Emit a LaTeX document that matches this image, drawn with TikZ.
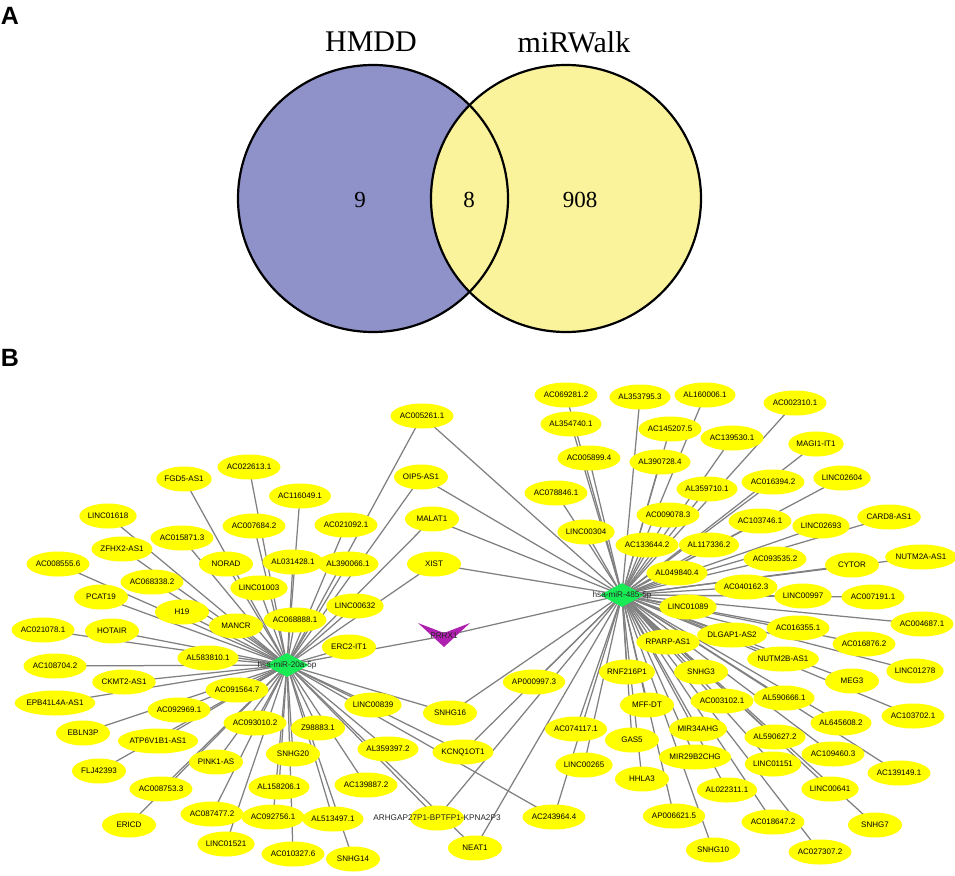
\documentclass[tikz,border=0pt]{standalone}
\usepackage{fontspec}
\setmainfont{Liberation Sans}
\newfontfamily\vennfont{Liberation Serif}
\usetikzlibrary{shapes.geometric}
\definecolor{hmddcolor}{RGB}{143,146,200}
\definecolor{walkcolor}{RGB}{250,243,155}
\definecolor{lnccolor}{RGB}{255,255,0}
\definecolor{mircolor}{RGB}{25,235,85}
\definecolor{genecolor}{RGB}{176,32,176}
\definecolor{edgecolor}{RGB}{128,128,128}
\pgfdeclarelayer{background}
\pgfsetlayers{background,main}

\begin{document}
\begin{tikzpicture}[%
    x=1pt, y=-1pt,              % pixel grid, top-down
    ]
\tikzset{
  lnc/.style={ellipse, fill=lnccolor, minimum width=54pt, minimum height=25pt, inner sep=0pt, font=\fontsize{8}{9}\selectfont},
  mir/.style={diamond, fill=mircolor, minimum width=44pt, minimum height=24pt, inner sep=0pt},
  hub/.style={font=\fontsize{8.2}{9}\selectfont, text=black!85, inner sep=0pt},
  link/.style={draw=edgecolor, line width=1.25pt},
  venn/.style={draw=black, line width=2.2pt},
  vlabel/.style={font=\vennfont\fontsize{30}{30}\selectfont},
  vcount/.style={font=\vennfont\fontsize{23}{23}\selectfont},
  panel/.style={font=\bfseries\fontsize{25}{25}\selectfont},
}
\useasboundingbox (0,0) rectangle (955,875);

% panel A: venn
\node [panel] (pA) at (10,16) {A};
\node [panel] (pB) at (10,358) {B};
\fill [hmddcolor] (373,198.5) ellipse [x radius=135, y radius=133.5];
\fill [walkcolor] (566,198.5) ellipse [x radius=135, y radius=133.5];
\draw [venn] (373,198.5) ellipse [x radius=135, y radius=133.5];
\draw [venn] (566,198.5) ellipse [x radius=135, y radius=133.5];
\node [vlabel] (hmdd) at (371,42) {HMDD};
\node [vlabel] (mirwalk) at (574,42) {miRWalk};
\node [vcount] (only1) at (360,200) {9};
\node [vcount] (both) at (469,200) {8};
\node [vcount] (only2) at (580,200) {908};

% panel B: hubs
\node [mir] (m20) at (287,665) {};
\node [hub] at (m20) {hsa-miR-20a-5p};
\node [mir] (m485) at (622,595) {};
\node [hub] at (m485) {hsa-miR-485-5p};
\fill [genecolor] (418,623) -- (444,633) -- (470,623) -- (444,647) -- cycle;
\node [hub] (PRRX1) at (444,636) {PRRX1};

% targets of hsa-miR-20a-5p
\node [lnc] (FGD5AS1) at (184,479) {FGD5-AS1};
\node [lnc] (AC0226131) at (249,467) {AC022613.1};
\node [lnc] (AC1160491) at (300,496) {AC116049.1};
\node [lnc] (LINC01618) at (108,516) {LINC01618};
\node [lnc] (AC0076842) at (254,526) {AC007684.2};
\node [lnc] (AC0158713) at (182,538) {AC015871.3};
\node [lnc] (AC0210921) at (346,525) {AC021092.1};
\node [lnc] (ZFHX2AS1) at (122,549) {ZFHX2-AS1};
\node [lnc] (NORAD) at (226,564) {NORAD};
\node [lnc] (AL0314281) at (293,562) {AL031428.1};
\node [lnc] (AL3900661) at (348,564) {AL390066.1};
\node [lnc] (AC0085556) at (58,564) {AC008555.6};
\node [lnc] (AC0683382) at (152,582) {AC068338.2};
\node [lnc] (LINC01003) at (259,588) {LINC01003};
\node [lnc] (LINC00632) at (355,606) {LINC00632};
\node [lnc] (PCAT19) at (101,597) {PCAT19};
\node [lnc] (H19) at (182,612) {H19};
\node [lnc] (MANCR) at (236,626) {MANCR};
\node [lnc] (AC0688881) at (295,620) {AC068888.1};
\node [lnc] (AC0210781) at (43,630) {AC021078.1};
\node [lnc] (HOTAIR) at (112,631) {HOTAIR};
\node [lnc] (AL5838101) at (208,658) {AL583810.1};
\node [lnc] (ERC2IT1) at (349,647) {ERC2-IT1};
\node [lnc] (AC1087042) at (55,666) {AC108704.2};
\node [lnc] (CKMT2AS1) at (124,682) {CKMT2-AS1};
\node [lnc] (AC0915647) at (237,690) {AC091564.7};
\node [lnc] (EPB41L4AAS1) at (55,703) {EPB41L4A-AS1};
\node [lnc] (AC0929691) at (179,710) {AC092969.1};
\node [lnc] (AC0930102) at (255,723) {AC093010.2};
\node [lnc] (Z988831) at (318,728) {Z98883.1};
\node [lnc] (LINC00839) at (373,705) {LINC00839};
\node [lnc] (EBLN3P) at (83,733) {EBLN3P};
\node [lnc] (ATP6V1B1AS1) at (158,741) {ATP6V1B1-AS1};
\node [lnc] (SNHG20) at (293,754) {SNHG20};
\node [lnc] (PINK1AS) at (216,762) {PINK1-AS};
\node [lnc] (FLJ42393) at (99,771) {FLJ42393};
\node [lnc] (AC0087533) at (161,789) {AC008753.3};
\node [lnc] (AL1582061) at (279,787) {AL158206.1};
\node [lnc] (AL3593972) at (388,749) {AL359397.2};
\node [lnc] (AC1398872) at (366,785) {AC139887.2};
\node [lnc] (AC0874772) at (212,814) {AC087477.2};
\node [lnc] (AC0927561) at (273,817) {AC092756.1};
\node [lnc] (AL5134971) at (333,819) {AL513497.1};
\node [lnc] (ERICD) at (129,825) {ERICD};
\node [lnc] (LINC01521) at (226,844) {LINC01521};
\node [lnc] (AC0103276) at (293,854) {AC010327.6};
\node [lnc] (SNHG14) at (353,859) {SNHG14};

% shared targets
\node [lnc] (AC0052611) at (422,416) {AC005261.1};
\node [lnc] (OIP5AS1) at (421,477) {OIP5-AS1};
\node [lnc] (MALAT1) at (432,519) {MALAT1};
\node [lnc] (XIST) at (434,564) {XIST};
\node [lnc] (SNHG16) at (450,713) {SNHG16};
\node [lnc] (KCNQ1OT1) at (463,752) {KCNQ1OT1};
\node [lnc] (ARHGAP) at (437,818) {};
\node [hub] at (ARHGAP) {ARHGAP27P1-BPTFP1-KPNA2P3};
\node [lnc] (NEAT1) at (475,848) {NEAT1};
\node [lnc] (AC2439644) at (554,817) {AC243964.4};

% targets of hsa-miR-485-5p
\node [lnc] (AC0692812) at (566,395) {AC069281.2};
\node [lnc] (AL3537953) at (640,397) {AL353795.3};
\node [lnc] (AL1600061) at (705,395) {AL160006.1};
\node [lnc] (AC0023101) at (795,403) {AC002310.1};
\node [lnc] (AL3547401) at (571,424) {AL354740.1};
\node [lnc] (AC1452075) at (670,429) {AC145207.5};
\node [lnc] (AC1395301) at (732,438) {AC139530.1};
\node [lnc] (AC0058994) at (589,458) {AC005899.4};
\node [lnc] (MAGI1IT1) at (816,444) {MAGI1-IT1};
\node [lnc] (AL3907284) at (660,462) {AL390728.4};
\node [lnc] (AC0788461) at (556,493) {AC078846.1};
\node [lnc] (AL3597101) at (707,489) {AL359710.1};
\node [lnc] (AC0163942) at (773,482) {AC016394.2};
\node [lnc] (LINC02604) at (842,478) {LINC02604};
\node [lnc] (AC0090783) at (668,515) {AC009078.3};
\node [lnc] (AC1037461) at (760,521) {AC103746.1};
\node [lnc] (LINC02693) at (821,526) {LINC02693};
\node [lnc] (CARD8AS1) at (889,517) {CARD8-AS1};
\node [lnc] (LINC00304) at (586,532) {LINC00304};
\node [lnc] (AC1336442) at (647,545) {AC133644.2};
\node [lnc] (AL1173362) at (709,545) {AL117336.2};
\node [lnc] (AC0935352) at (775,559) {AC093535.2};
\node [lnc] (CYTOR) at (852,565) {CYTOR};
\node [lnc] (NUTM2AAS1) at (921,557) {NUTM2A-AS1};
\node [lnc] (AL0498404) at (677,573) {AL049840.4};
\node [lnc] (AC0401623) at (746,587) {AC040162.3};
\node [lnc] (LINC00997) at (803,596) {LINC00997};
\node [lnc] (AC0071911) at (873,597) {AC007191.1};
\node [lnc] (LINC01089) at (688,607) {LINC01089};
\node [lnc] (AC0046871) at (922,624) {AC004687.1};
\node [lnc] (AC0163551) at (798,628) {AC016355.1};
\node [lnc] (DLGAP1AS2) at (732,635) {DLGAP1-AS2};
\node [lnc] (AC0168762) at (864,644) {AC016876.2};
\node [lnc] (RPARPAS1) at (668,642) {RPARP-AS1};
\node [lnc] (NUTM2BAS1) at (783,659) {NUTM2B-AS1};
\node [lnc] (LINC01278) at (915,671) {LINC01278};
\node [lnc] (RNF216P1) at (627,672) {RNF216P1};
\node [lnc] (SNHG3) at (701,672) {SNHG3};
\node [lnc] (MEG3) at (852,681) {MEG3};
\node [lnc] (AP0009973) at (534,682) {AP000997.3};
\node [lnc] (AL5906661) at (784,698) {AL590666.1};
\node [lnc] (AC0031021) at (722,701) {AC003102.1};
\node [lnc] (MFFDT) at (647,705) {MFF-DT};
\node [lnc] (AC1037021) at (913,716) {AC103702.1};
\node [lnc] (AL6456082) at (841,723) {AL645608.2};
\node [lnc] (MIR34AHG) at (698,729) {MIR34AHG};
\node [lnc] (AC0741171) at (576,729) {AC074117.1};
\node [lnc] (AL5906272) at (775,737) {AL590627.2};
\node [lnc] (GAS5) at (632,740) {GAS5};
\node [lnc] (AC1094603) at (833,754) {AC109460.3};
\node [lnc] (MIR29B2CHG) at (695,757) {MIR29B2CHG};
\node [lnc] (LINC01151) at (773,764) {LINC01151};
\node [lnc] (LINC00265) at (584,765) {LINC00265};
\node [lnc] (AC1391491) at (899,773) {AC139149.1};
\node [lnc] (HHLA3) at (642,779) {HHLA3};
\node [lnc] (LINC00641) at (830,789) {LINC00641};
\node [lnc] (AL0223111) at (727,790) {AL022311.1};
\node [lnc] (AP0066215) at (674,816) {AP006621.5};
\node [lnc] (AC0186472) at (773,822) {AC018647.2};
\node [lnc] (SNHG7) at (875,825) {SNHG7};
\node [lnc] (SNHG10) at (713,850) {SNHG10};
\node [lnc] (AC0273072) at (820,852) {AC027307.2};

%connect
\begin{pgfonlayer}{background}
\foreach \t in {FGD5AS1, AC0226131, AC1160491, LINC01618, AC0076842, AC0158713,
    AC0210921, ZFHX2AS1, NORAD, AL0314281, AL3900661, AC0085556, AC0683382,
    LINC01003, LINC00632, PCAT19, H19, MANCR, AC0688881, AC0210781, HOTAIR,
    AL5838101, ERC2IT1, AC1087042, CKMT2AS1, AC0915647, EPB41L4AAS1, AC0929691,
    AC0930102, Z988831, LINC00839, EBLN3P, ATP6V1B1AS1, SNHG20, PINK1AS,
    FLJ42393, AC0087533, AL1582061, AL3593972, AC1398872, AC0874772, AC0927561,
    AL5134971, ERICD, LINC01521, AC0103276, SNHG14}
  \draw [link] (m20.center) -- (\t.center);
\foreach \t in {AC0052611, OIP5AS1, MALAT1, XIST, PRRX1, SNHG16, KCNQ1OT1,
    ARHGAP, NEAT1, AC2439644}
  \draw [link] (m20.center) -- (\t.center) -- (m485.center);
\foreach \t in {AC0692812, AL3537953, AL1600061, AC0023101, AL3547401, AC1452075,
    AC1395301, AC0058994, MAGI1IT1, AL3907284, AC0788461, AL3597101, AC0163942,
    LINC02604, AC0090783, AC1037461, LINC02693, CARD8AS1, LINC00304, AC1336442,
    AL1173362, AC0935352, CYTOR, NUTM2AAS1, AL0498404, AC0401623, LINC00997,
    AC0071911, LINC01089, AC0046871, AC0163551, DLGAP1AS2, AC0168762, RPARPAS1,
    NUTM2BAS1, LINC01278, RNF216P1, SNHG3, MEG3, AP0009973, AL5906661, AC0031021,
    MFFDT, AC1037021, AL6456082, MIR34AHG, AC0741171, AL5906272, GAS5, AC1094603,
    MIR29B2CHG, LINC01151, LINC00265, AC1391491, HHLA3, LINC00641, AL0223111,
    AP0066215, AC0186472, SNHG7, SNHG10, AC0273072}
  \draw [link] (m485.center) -- (\t.center);
\end{pgfonlayer}

\end{tikzpicture}
\end{document}
